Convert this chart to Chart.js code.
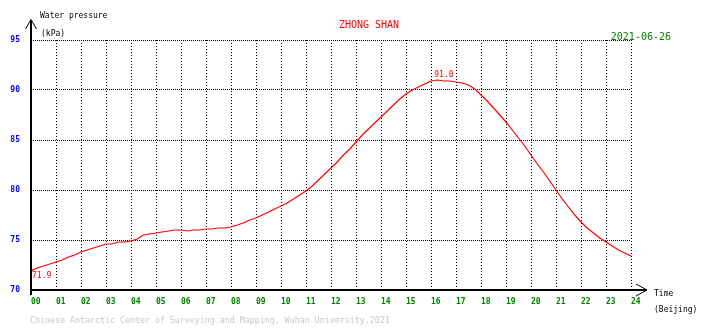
<!DOCTYPE html>
<html>
<head>
<meta charset="utf-8">
<script src="https://cdn.jsdelivr.net/npm/chart.js@4/dist/chart.umd.min.js"></script>
<style>
  html, body { margin: 0; padding: 0; background: #fff; }
  #wrap { position: relative; width: 710px; height: 328px; }
</style>
</head>
<body>
<div id="wrap"><canvas id="c" width="710" height="328"></canvas></div>
<script>
// Station and day of the record
const STATION = 'ZHONG SHAN';
const DAY = '2021-06-26';
const FOOTER = 'Chinese Antarctic Center of Surveying and Mapping, Wuhan University,2021';

// Hour tick labels (Beijing time) and pressure tick values (kPa)
const hourLabels = ['00','01','02','03','04','05','06','07','08','09','10','11','12',
                    '13','14','15','16','17','18','19','20','21','22','23','24'];
const pressureTicks = [70, 75, 80, 85, 90, 95];

// Water pressure readings, one every 15 minutes from 00:00 to 24:00 (kPa)
const sampleMinutes = 15;
const pressure = [
  71.9, 72.2, 72.4, 72.6,   // 00
  72.8, 73.0, 73.3, 73.5,   // 01
  73.8, 74.0, 74.2, 74.4,   // 02
  74.6, 74.6, 74.8, 74.8,   // 03
  74.9, 75.1, 75.5, 75.6,   // 04
  75.7, 75.8, 75.9, 76.0,   // 05
  76.0, 75.9, 76.0, 76.0,   // 06
  76.1, 76.1, 76.2, 76.2,   // 07
  76.3, 76.5, 76.7, 77.0,   // 08
  77.2, 77.5, 77.8, 78.1,   // 09
  78.4, 78.7, 79.1, 79.5,   // 10
  79.9, 80.4, 81.0, 81.6,   // 11
  82.2, 82.8, 83.5, 84.1,   // 12
  84.8, 85.5, 86.1, 86.7,   // 13
  87.3, 87.9, 88.5, 89.1,   // 14
  89.6, 90.0, 90.3, 90.6,   // 15
  90.9, 91.0, 90.9, 90.9,   // 16
  90.8, 90.7, 90.5, 90.1,   // 17
  89.5, 88.9, 88.2, 87.5,   // 18
  86.8, 86.0, 85.2, 84.4,   // 19
  83.5, 82.6, 81.8, 80.9,   // 20
  80.0, 79.1, 78.3, 77.5,   // 21
  76.8, 76.2, 75.7, 75.2,   // 22
  74.8, 74.4, 74.0, 73.7,   // 23
  73.4                      // 24
];

const MONO = '"DejaVu Sans Mono", "Liberation Mono", monospace';

const points = pressure.map((v, i) => ({ x: i * sampleMinutes / 60, y: v }));

// Axes with arrows, titles, min/max annotations
const decorations = {
  id: 'decorations',
  afterDraw(chart) {
    const { ctx } = chart;
    const xs = chart.scales.x, ys = chart.scales.y;
    const x0 = xs.getPixelForValue(0), x1 = xs.getPixelForValue(24);
    const yb = ys.getPixelForValue(70), yt = ys.getPixelForValue(95);
    ctx.save();
    ctx.strokeStyle = '#000';
    ctx.lineWidth = 2;
    ctx.beginPath();
    ctx.moveTo(x0, yb + 5); ctx.lineTo(x0, yt - 20);
    ctx.moveTo(x0 - 1, yb); ctx.lineTo(x1 + 16, yb);
    ctx.stroke();
    ctx.lineWidth = 1;
    ctx.beginPath();
    ctx.moveTo(x0 - 5.5, yt - 11); ctx.lineTo(x0, yt - 20.5); ctx.lineTo(x0 + 5.5, yt - 11);
    ctx.moveTo(x1 + 5, yb - 6); ctx.lineTo(x1 + 16, yb); ctx.lineTo(x1 + 5, yb + 6);
    ctx.stroke();

    ctx.textBaseline = 'middle';
    ctx.textAlign = 'left';
    ctx.fillStyle = '#000';
    ctx.font = '8px ' + MONO;
    ctx.fillText('Water pressure', x0 + 9, 16);
    ctx.fillText('(kPa)', x0 + 10, 34);
    ctx.fillText('Time', x1 + 23, 294);
    ctx.fillText('(Beijing)', x1 + 23, 310);

    ctx.fillStyle = '#ff0000';
    ctx.font = '10px ' + MONO;
    ctx.textAlign = 'center';
    ctx.fillText(STATION, 369, 25);

    ctx.fillStyle = '#008000';
    ctx.textAlign = 'right';
    ctx.fillText(DAY, 671, 37);

    ctx.fillStyle = '#c8c8c8';
    ctx.textAlign = 'left';
    ctx.font = '8.3px ' + MONO;
    ctx.fillText(FOOTER, 30, 320.5);

    // Min and max readings
    let iMin = 0, iMax = 0;
    pressure.forEach((v, i) => { if (v < pressure[iMin]) iMin = i; if (v > pressure[iMax]) iMax = i; });
    ctx.fillStyle = '#ff0000';
    ctx.font = '8px ' + MONO;
    const mx = xs.getPixelForValue(points[iMin].x), my = ys.getPixelForValue(points[iMin].y);
    ctx.fillText(pressure[iMin].toFixed(1), mx + 1, my + 4.5);
    const px = xs.getPixelForValue(points[iMax].x), py = ys.getPixelForValue(points[iMax].y);
    ctx.fillText(pressure[iMax].toFixed(1), px - 3, py - 5.5);
    ctx.restore();
  }
};

new Chart(document.getElementById('c'), {
  type: 'line',
  data: {
    datasets: [{
      data: points,
      borderColor: '#ff0000',
      borderWidth: 1.2,
      pointRadius: 0,
      tension: 0,
      fill: false
    }]
  },
  options: {
    responsive: false,
    animation: false,
    devicePixelRatio: 1,
    layout: { padding: { left: 0, right: 79, top: 40, bottom: 0 } },
    plugins: { legend: { display: false }, tooltip: { enabled: false } },
    scales: {
      x: {
        type: 'linear',
        min: 0, max: 24,
        afterBuildTicks: s => { s.ticks = hourLabels.map((_, i) => ({ value: i })); },
        afterFit: s => { s.height = 38; },
        ticks: {
          callback: v => hourLabels[v],
          align: 'start',
          color: '#008000',
          font: { family: MONO, size: 8, weight: 'bold' },
          padding: 7,
          maxRotation: 0,
          autoSkip: false
        },
        grid: {
          color: c => (c.tick && c.tick.value === 0) ? 'rgba(0,0,0,0)' : '#000',
          lineWidth: 1,
          drawTicks: false
        },
        border: { display: false, dash: [1, 2] }
      },
      y: {
        min: 70, max: 95,
        afterBuildTicks: s => { s.ticks = pressureTicks.map(v => ({ value: v })); },
        afterFit: s => { s.width = 31; },
        ticks: {
          color: '#0000ff',
          font: { family: MONO, size: 8, weight: 'bold' },
          padding: 11
        },
        grid: {
          color: c => (c.tick && c.tick.value === 70) ? 'rgba(0,0,0,0)' : '#000',
          lineWidth: 1,
          drawTicks: false
        },
        border: { display: false, dash: [1, 1] }
      }
    }
  },
  plugins: [decorations]
});
</script>
</body>
</html>
